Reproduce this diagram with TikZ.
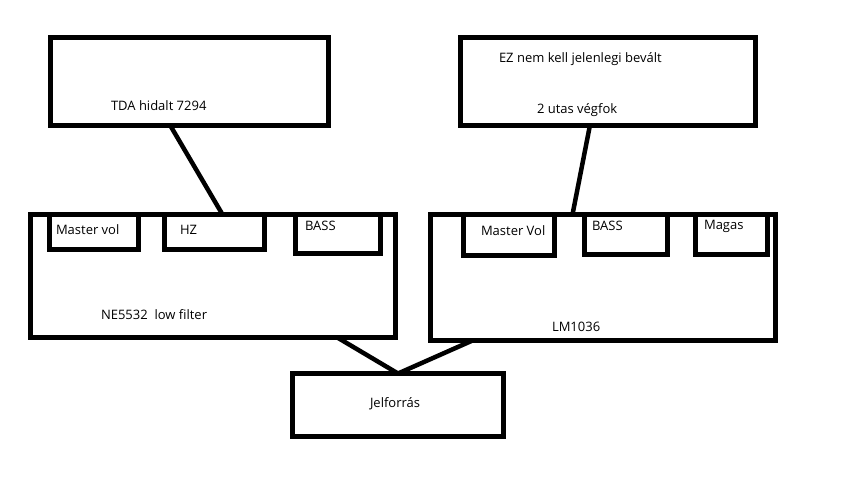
\documentclass[tikz,border=0pt]{standalone}
\usepackage{fontspec}
\setmainfont{Open Sans}
\begin{document}
\begin{tikzpicture}[x=1pt,y=-1pt,
  box/.style={draw=black,line width=5pt,rectangle,inner sep=0pt,outer sep=0pt,fill=none},
  txt/.style={anchor=base west,inner sep=0pt,outer sep=0pt,font=\fontsize{13}{15}\selectfont,text=black},
  wire/.style={draw=black,line width=4.5pt}]
\useasboundingbox[fill=white] (0,0) rectangle (842,493);
% boxes
\node[box,minimum width=278pt,minimum height=88pt] (tda) at (189,81) {};
\node[box,minimum width=295pt,minimum height=88pt] (ez) at (607.5,81) {};
\node[box,minimum width=365pt,minimum height=122.5pt] (ne) at (213,275.75) {};
\node[box,minimum width=89pt,minimum height=35pt] (mv1) at (94,232) {};
\node[box,minimum width=100pt,minimum height=35pt] (hz) at (214.5,232) {};
\node[box,minimum width=85pt,minimum height=39pt] (bass1) at (338,234) {};
\node[box,minimum width=345pt,minimum height=126pt] (lm) at (603,277.5) {};
\node[box,minimum width=91pt,minimum height=41pt] (mv2) at (509,235) {};
\node[box,minimum width=83pt,minimum height=40pt] (bass2) at (626,234.5) {};
\node[box,minimum width=72pt,minimum height=40pt] (magas) at (731.5,234.5) {};
\node[box,minimum width=211pt,minimum height=63pt] (jel) at (398,405) {};
% texts
\node[txt] (t1) at (111,110) {TDA hidalt 7294};
\node[txt] (t2) at (499,62) {EZ nem kell jelenlegi bevált};
\node[txt] (t3) at (537,113) {2 utas végfok};
\node[txt] (t4) at (56,234) {Master vol};
\node[txt] (t5) at (180,234) {HZ};
\node[txt] (t6) at (305,230) {BASS};
\node[txt] (t7) at (101,319) {NE5532\ \ low filter};
\node[txt] (t8) at (481,235) {Master Vol};
\node[txt] (t9) at (592,230) {BASS};
\node[txt] (t10) at (704,229) {Magas};
\node[txt] (t11) at (552,331) {LM1036};
\node[txt] (t12) at (370,407) {Jelforrás};
% connectors
\draw[wire] ([xshift=120pt]tda.south west) -- ([xshift=192pt]ne.north west);
\draw[wire] ([xshift=130pt]ez.south west) -- ([xshift=142pt]lm.north west);
\draw[wire] ([xshift=306pt]ne.south west) -- ([xshift=105.5pt]jel.north west);
\draw[wire] ([xshift=42pt]lm.south west) -- ([xshift=105.5pt]jel.north west);
\end{tikzpicture}
\end{document}
